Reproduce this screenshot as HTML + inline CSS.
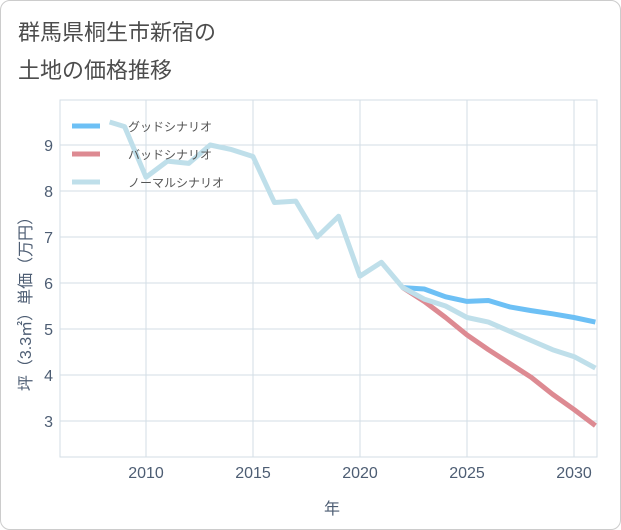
<!DOCTYPE html>
<html><head><meta charset="utf-8"><style>
body{margin:0;background:#fff;font-family:"Liberation Sans","Noto Sans CJK JP",sans-serif;}
#card{position:absolute;left:0;top:0;width:619px;height:528px;border:1px solid #ccc;border-radius:10px;background:#fff;}
</style></head><body>
<div id="card"></div>
<svg id="chart" width="621" height="530" style="position:absolute;left:0;top:0">
<text x="18" y="40" font-size="22" fill="#4d4d4d">群馬県桐生市新宿の</text>
<text x="18" y="78" font-size="22" fill="#4d4d4d">土地の価格推移</text>
<g id="grid"></g><g id="series"></g><g id="axes"></g>
<g>
<line x1="72" y1="126" x2="100" y2="126" stroke="#6dc0f5" stroke-width="5"/>
<text x="128" y="131" font-size="12" fill="#555">グッドシナリオ</text>
<line x1="72" y1="154" x2="100" y2="154" stroke="#dd8a92" stroke-width="5"/>
<text x="128" y="159" font-size="12" fill="#555">バッドシナリオ</text>
<line x1="72" y1="182" x2="100" y2="182" stroke="#bfdfea" stroke-width="5"/>
<text x="128" y="187" font-size="12" fill="#555">ノーマルシナリオ</text>
</g>
</svg>
<script>
const normalYears=[2008.3,2009,2010,2011,2012,2013,2014,2015,2016,2017,2018,2019,2020,2021,2022,2023,2024,2025,2026,2027,2028,2029,2030,2031];
const normalValues=[9.5,9.4,8.3,8.65,8.6,9.0,8.9,8.75,7.75,7.78,7.0,7.45,6.15,6.45,5.9,5.65,5.5,5.25,5.15,4.95,4.75,4.55,4.4,4.15];
const forecastYears=[2022,2023,2024,2025,2026,2027,2028,2029,2030,2031];
const goodValues=[5.9,5.87,5.7,5.6,5.62,5.48,5.4,5.33,5.25,5.15];
const badValues=[5.9,5.6,5.25,4.87,4.55,4.25,3.95,3.58,3.25,2.9];
const xTicks=[2010,2015,2020,2025,2030];
const yTicks=[3,4,5,6,7,8,9];
const L=60,R=597,T=100,B=457;
const xs=y=>146+(y-2010)*21.4;
const ys=v=>421-(v-3)*46;
const NS="http://www.w3.org/2000/svg";
function mk(parent,tag,attrs){const e=document.createElementNS(NS,tag);for(const k in attrs)e.setAttribute(k,attrs[k]);document.getElementById(parent).appendChild(e);return e;}
mk('grid','rect',{x:L,y:T,width:R-L,height:B-T,fill:'none',stroke:'#d3dee6'});
xTicks.forEach(t=>{
 const l=mk('grid','line',{x1:xs(t),x2:xs(t),y1:T,y2:B,stroke:'#d3dee6'});
 
 
 const tx=mk('axes','text',{x:xs(t),y:478,'text-anchor':'middle','font-size':16,fill:'#4d5d73'});
 tx.textContent=t;
 
 
});
yTicks.forEach(t=>{
 const l=mk('grid','line',{x1:L,x2:R,y1:ys(t),y2:ys(t),stroke:'#d3dee6'});
 
 
 const tx=mk('axes','text',{x:53,y:ys(t)+6,'text-anchor':'end','font-size':16,fill:'#4d5d73'});
 tx.textContent=t;
 
 
});
const xt=mk('axes','text',{x:332,y:514,'text-anchor':'middle','font-size':16,fill:'#4d5d73'});
xt.textContent='年';


const yt=mk('axes','text',{x:0,y:0,transform:'translate(31,300) rotate(-90)','text-anchor':'middle','font-size':16,fill:'#4d5d73'});
yt.textContent='坪（3.3㎡）単価（万円）';


function line(years,vals,color,name){
 const pts=years.map((y,i)=>xs(y)+','+ys(vals[i])).join(' ');
 const p=mk('series','polyline',{points:pts,fill:'none',stroke:color,'stroke-width':5,'stroke-linejoin':'round'});
 
 
}
const clip=mk('series','clipPath',{id:'pc'});
const cr=document.createElementNS(NS,'rect');cr.setAttribute('x',L);cr.setAttribute('y',T-30);cr.setAttribute('width',R-L);cr.setAttribute('height',B-T+30);clip.appendChild(cr);
document.getElementById('series').setAttribute('clip-path','url(#pc)');
line(forecastYears,goodValues,'#6dc0f5','good-scenario-line');
line(forecastYears,badValues,'#dd8a92','bad-scenario-line');
line(normalYears,normalValues,'#bfdfea','normal-scenario-line');
</script>
</body></html>
